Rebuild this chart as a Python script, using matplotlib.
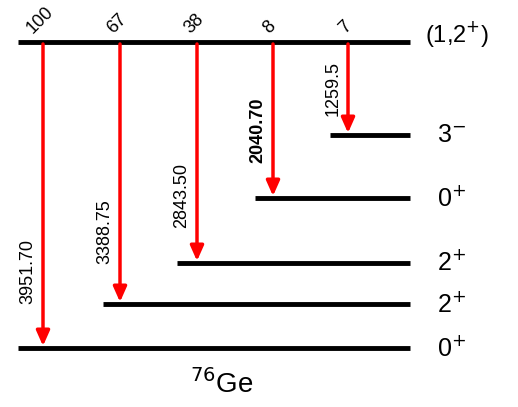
import matplotlib.pyplot as plt

plt.rcParams['font.family'] = ['Liberation Sans', 'DejaVu Sans']

# final levels (spin labels)
level_labels = ['3$^{-}$', '0$^{+}$', '2$^{+}$', '2$^{+}$', '0$^{+}$']
energies = ['1259.5', '2040.70', '2843.50', '3388.75', '3951.70']
intensities = ['7', '8', '38', '67', '100']
bold = [False, True, False, False, False]

# layout in pixel units
level_y = [135, 198, 263, 304, 348]
level_x0 = [330, 255, 177, 103, 18]
arrow_x = [348, 273, 197, 120, 43]
label_y = [88, 130, 195, 232, 272]
top_y = 42
x_right = 410

fig = plt.figure(figsize=(5.18, 4.07), dpi=100)
ax = fig.add_axes([0, 0, 1, 1])
ax.set_xlim(0, 518)
ax.set_ylim(407, 0)
ax.axis('off')

ax.plot([18, x_right], [top_y, top_y], color='black', lw=3.5, solid_capstyle='butt')
ax.text(425, top_y - 8, '(1,2$^{+}$)', fontsize=17, va='center', ha='left')

for lab, e, inten, b, y, x0, xa, ly in zip(level_labels, energies, intensities, bold,
                                           level_y, level_x0, arrow_x, label_y):
    ax.plot([x0, x_right], [y, y], color='black', lw=3.5, solid_capstyle='butt')
    ax.text(437, y, lab, fontsize=18, va='center', ha='left')
    ax.annotate('', xy=(xa, y - 2), xytext=(xa, top_y + 2),
                arrowprops=dict(arrowstyle='-|>,head_width=0.4,head_length=0.9',
                                color='red', lw=2.5, shrinkA=0, shrinkB=0))
    ax.text(xa - 15, ly, e, rotation=90, fontsize=13, ha='center', va='center',
            fontweight='bold' if b else 'normal')
    ax.text(xa - 3, top_y - 5, inten, rotation=45, fontsize=13, ha='center', va='bottom')

ax.text(222, 384, '$^{76}$Ge', fontsize=20, ha='center', va='center')

fig.savefig('out.png', dpi=100)
